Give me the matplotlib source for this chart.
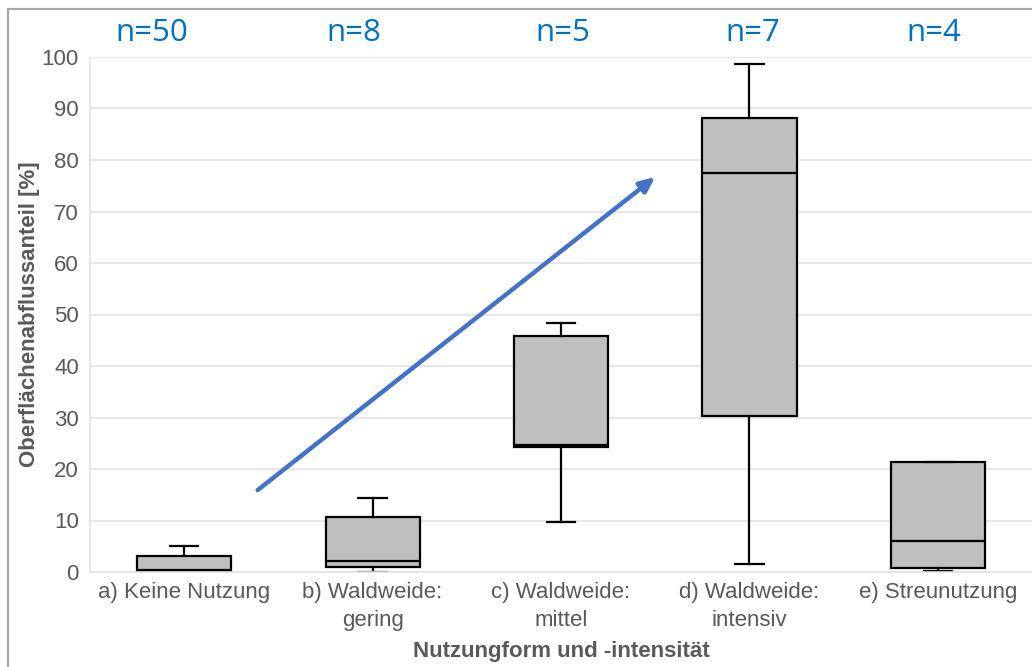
import matplotlib.pyplot as plt
from matplotlib.patches import Rectangle

# data
categories = ['a) Keine Nutzung', 'b) Waldweide:\ngering', 'c) Waldweide:\nmittel',
              'd) Waldweide:\nintensiv', 'e) Streunutzung']
n_labels = ['n=50', 'n=8', 'n=5', 'n=7', 'n=4']
whislo = [0.0, 0.0, 9.8, 1.6, 0.1]
q1 = [0.2, 0.9, 24.2, 30.2, 0.7]
med = [0.4, 2.1, 24.6, 77.5, 6.0]
q3 = [3.2, 10.7, 45.9, 88.2, 21.4]
whishi = [5.0, 14.4, 48.3, 98.6, 21.4]

# the n= text boxes sit a bit off the box centres in the original
n_shift = [-0.17, -0.10, 0.01, 0.02, -0.02]

# trend arrow (category position, value)
arrow_start = (0.39, 15.9)
arrow_end = (2.50, 76.7)

grey_txt = '#595959'

fig = plt.figure(figsize=(10.32, 6.67), dpi=100)
fig.patch.set_facecolor('white')
ax = fig.add_axes([90 / 1032, 1 - 572 / 667, 942 / 1032, (572 - 57) / 667])

stats = []
for i in range(len(categories)):
    stats.append(dict(whislo=whislo[i], q1=q1[i], med=med[i], q3=q3[i],
                      whishi=whishi[i], fliers=[], label=categories[i]))

ax.bxp(stats, positions=range(len(categories)), widths=0.5, capwidths=0.15,
       patch_artist=True, showfliers=False,
       boxprops=dict(facecolor='#BFBFBF', edgecolor='black', linewidth=1.6),
       medianprops=dict(color='black', linewidth=1.6),
       whiskerprops=dict(color='black', linewidth=1.6),
       capprops=dict(color='black', linewidth=1.6))

ax.set_xlim(-0.5, len(categories) - 0.5)
ax.set_ylim(0, 100)
ax.set_yticks(range(0, 101, 10))
ax.yaxis.grid(True, color='#E3E3E3', linewidth=1.2)
ax.set_axisbelow(True)

for s in ['top', 'right']:
    ax.spines[s].set_visible(False)
for s in ['left', 'bottom']:
    ax.spines[s].set_color('#E3E3E3')
    ax.spines[s].set_linewidth(1.2)

ax.tick_params(axis='both', length=0, labelcolor=grey_txt)
ax.tick_params(axis='y', labelsize=16, pad=8)
ax.tick_params(axis='x', labelsize=16, pad=7)
for lbl in ax.get_xticklabels() + ax.get_yticklabels():
    lbl.set_family('Liberation Sans')
for lbl in ax.get_xticklabels():
    lbl.set_linespacing(1.45)

ax.set_ylabel('Oberflächenabflussanteil [%]', fontsize=16, fontweight='bold',
              color=grey_txt, family='Liberation Sans', labelpad=1)
ax.set_xlabel('Nutzungform und -intensität', fontsize=16, fontweight='bold',
              color=grey_txt, family='Liberation Sans', labelpad=7)

for i, t in enumerate(n_labels):
    ax.text(i + n_shift[i], 104.6, t, ha='center', va='center', fontsize=22.5,
            color='#0070C0', family='Open Sans', clip_on=False)

ax.annotate('', xy=arrow_end, xytext=arrow_start,
            arrowprops=dict(arrowstyle='-|>,head_length=0.9,head_width=0.4',
                            color='#4472C4', lw=3.2, shrinkA=0, shrinkB=0))

# outer chart border (cropped at right and bottom)
fig.patches.append(Rectangle((8 / 1032, -0.1), 1.2, 1 - 9 / 667 + 0.1,
                             transform=fig.transFigure, fill=False,
                             edgecolor='#A6A6A6', linewidth=1.5))

fig.savefig('out.png', dpi=100)
